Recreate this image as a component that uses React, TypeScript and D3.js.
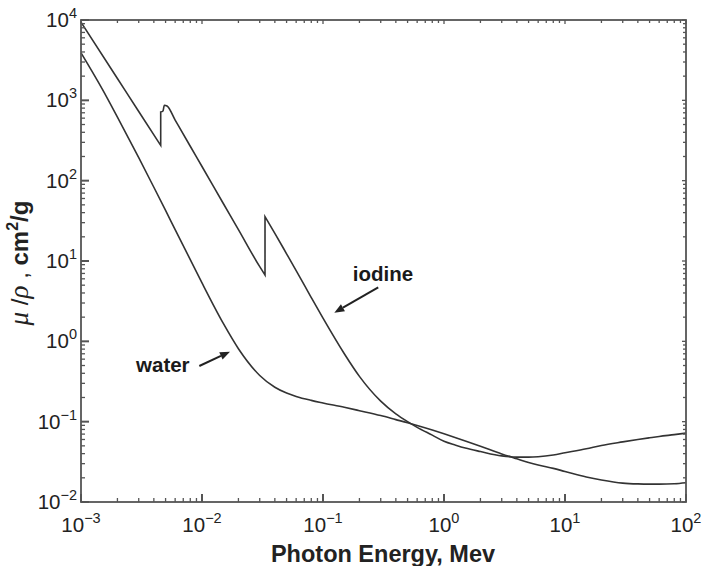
import React from "react";
import * as d3 from "d3";

// Photon energy (MeV) and mass attenuation coefficient (cm^2/g)
const iodineEnergy = [
  0.001, 0.002, 0.003, 0.004557,
  0.004557, 0.00476, 0.00488, 0.00514,
  0.006, 0.008, 0.01, 0.015, 0.02, 0.03, 0.03317,
  0.03317, 0.04, 0.05, 0.06, 0.08, 0.1, 0.15, 0.2, 0.3, 0.4, 0.5, 0.6, 0.8,
  1, 1.25, 1.5, 2, 3, 4, 5, 6, 8, 10, 15, 20, 30, 40, 50, 60, 80, 100,
];
const iodineMu = [
  9400, 1871, 727, 275,
  716, 737, 870, 851,
  568, 268, 150, 52, 24.6, 8.5, 6.7,
  35.6, 22.1, 12.3, 7.6, 3.5, 1.94, 0.7, 0.366, 0.18, 0.125, 0.1, 0.085, 0.068,
  0.057, 0.051, 0.047, 0.0425, 0.0375, 0.0362, 0.0362, 0.0366, 0.0385, 0.041, 0.046, 0.0505, 0.056, 0.06, 0.063, 0.0655, 0.069, 0.072,
];
const waterEnergy = [
  0.001, 0.0015, 0.002, 0.003, 0.004, 0.005, 0.006, 0.008, 0.01, 0.015, 0.02,
  0.03, 0.04, 0.05, 0.06, 0.08, 0.1, 0.15, 0.2, 0.3, 0.4, 0.5, 0.6, 0.8, 1,
  1.25, 1.5, 2, 3, 4, 5, 6, 8, 10, 15, 20, 30, 40, 50, 60, 80, 100,
];
const waterMu = [
  3900, 1376, 617, 193, 82.8, 42.6, 24.6, 10.4, 5.33, 1.67, 0.81,
  0.376, 0.268, 0.227, 0.206, 0.184, 0.171, 0.151, 0.137, 0.119, 0.106, 0.0969, 0.0896, 0.0787, 0.0707,
  0.0632, 0.0575, 0.0494, 0.0397, 0.0345, 0.031, 0.0288, 0.0262, 0.0240, 0.0205, 0.0188, 0.0172, 0.0168, 0.0167, 0.0167, 0.0169, 0.0174,
];

const xTickExponents = [-3, -2, -1, 0, 1, 2];
const yTickExponents = [-2, -1, 0, 1, 2, 3, 4];

// annotations (energy, mu) for label start, arrow tail, arrow tip
const annotationLabels = ["iodine", "water"];
const annotationText = [[0.176, 5.68], [0.00285, 0.419]];
const annotationTail = [[0.286, 4.7], [0.0095, 0.493]];
const annotationTip = [[0.124, 2.27], [0.01703, 0.743]];

const W = 702;
const H = 566;
const L = 81, R = 686, T = 20, B = 502;
const SANS = "'Liberation Sans', Arial, Helvetica, sans-serif";
const SERIF = "'Liberation Serif', 'DejaVu Serif', serif";

const x = d3.scaleLog().domain([1e-3, 1e2]).range([L, R]);
const y = d3.scaleLog().domain([1e-2, 1e4]).range([B, T]);

function curvePath(es: number[], vs: number[]) {
  // split at absorption edges (repeated energy), smooth each piece, join vertically
  const pts = es.map((e, i) => [x(e), y(vs[i])] as [number, number]);
  const segs: [number, number][][] = [];
  let cur: [number, number][] = [];
  pts.forEach((p, i) => {
    if (i > 0 && es[i] === es[i - 1]) {
      segs.push(cur);
      cur = [];
    }
    cur.push(p);
  });
  segs.push(cur);
  const gen = d3.line().curve(d3.curveMonotoneX);
  return segs
    .map((s, i) => {
      const d = gen(s) || "";
      return i === 0 ? d : "L" + d.slice(1);
    })
    .join("");
}

function allTicks() {
  const out: { v: number; major: boolean }[] = [];
  for (let d = -3; d <= 4; d++) {
    for (let m = 1; m <= 9; m++) out.push({ v: m * Math.pow(10, d), major: m === 1 });
  }
  return out;
}

const sup = (n: number) => (n < 0 ? "\u2212" + Math.abs(n) : String(n));

export default function App() {
  const ticks = allTicks();
  const xt = ticks.filter((t) => t.v >= 1e-3 * 0.999 && t.v <= 1e2 * 1.001);
  const yt = ticks.filter((t) => t.v >= 1e-2 * 0.999 && t.v <= 1e4 * 1.001);
  const maj = 8, mnr = 4;
  const lineColor = "#333";
  const axisColor = "#555";

  return (
    <svg width={W} height={H} style={{ position: "absolute", left: 0, top: 0, background: "#fff" }}>
      <rect x={0} y={0} width={W} height={H} fill="#fff" />
      {/* curves */}
      <path d={curvePath(waterEnergy, waterMu)} fill="none" stroke={lineColor} strokeWidth={1.6} />
      <path d={curvePath(iodineEnergy, iodineMu)} fill="none" stroke={lineColor} strokeWidth={1.6} />

      {/* ticks */}
      <g stroke={axisColor} strokeWidth={1.3}>
        {xt.map((t, i) => {
          const px = x(t.v);
          const len = t.major ? maj : mnr;
          return (
            <g key={"xt" + i}>
              <line x1={px} x2={px} y1={B} y2={B - len} strokeWidth={t.major ? 2 : 1.3} />
              <line x1={px} x2={px} y1={T} y2={T + (t.major ? 4 : 3)} />
            </g>
          );
        })}
        {yt.map((t, i) => {
          const py = y(t.v);
          const len = t.major ? maj : mnr;
          return (
            <g key={"yt" + i}>
              <line x1={L} x2={L + len} y1={py} y2={py} strokeWidth={t.major ? 2 : 1.3} />
              <line x1={R} x2={R - (t.major ? 4 : 3)} y1={py} y2={py} />
            </g>
          );
        })}
      </g>
      <rect x={L} y={T} width={R - L} height={B - T} fill="none" stroke={axisColor} strokeWidth={1.8} />

      {/* x tick labels */}
      {xTickExponents.map((e) => (
        <text key={"xl" + e} x={x(Math.pow(10, e))} y={532} textAnchor="middle" fontFamily={SANS} fontSize={20.5} fill="#222">
          <tspan>10</tspan>
          <tspan fontSize={14.5} dy={-9}>{sup(e)}</tspan>
        </text>
      ))}
      {/* y tick labels */}
      {yTickExponents.map((e) => (
        <text key={"yl" + e} x={77} y={y(Math.pow(10, e)) + 7} textAnchor="end" fontFamily={SANS} fontSize={20.5} fill="#222">
          <tspan>10</tspan>
          <tspan fontSize={14.5} dy={-9}>{sup(e)}</tspan>
        </text>
      ))}

      {/* axis titles */}
      <text x={383} y={562} textAnchor="middle" fontFamily={SANS} fontSize={23.5} fontWeight="bold" fill="#222">
        Photon Energy, Mev
      </text>
      <text transform="translate(28,263) rotate(-90)" textAnchor="middle" fontFamily={SANS} fontSize={24} fill="#222">
        <tspan fontFamily={SERIF} fontStyle="italic" fontSize={27}>μ</tspan>
        <tspan> /</tspan>
        <tspan fontFamily={SERIF} fontStyle="italic" fontSize={27}>ρ</tspan>
        <tspan> , </tspan>
        <tspan fontWeight="bold">cm</tspan>
        <tspan fontWeight="bold" fontSize={16} dy={-10}>2</tspan>
        <tspan fontWeight="bold" dy={10}>/g</tspan>
      </text>

      {/* annotations */}
      {annotationLabels.map((lab, i) => {
        const tx = x(annotationText[i][0]);
        const ty = y(annotationText[i][1]);
        const x0 = x(annotationTail[i][0]);
        const y0 = y(annotationTail[i][1]);
        const x1 = x(annotationTip[i][0]);
        const y1 = y(annotationTip[i][1]);
        const ang = Math.atan2(y1 - y0, x1 - x0);
        const hl = 10, hw = 4;
        const bx = x1 - hl * Math.cos(ang);
        const by = y1 - hl * Math.sin(ang);
        const p1 = [bx + hw * Math.sin(ang), by - hw * Math.cos(ang)];
        const p2 = [bx - hw * Math.sin(ang), by + hw * Math.cos(ang)];
        return (
          <g key={lab}>
            <text x={tx} y={ty} fontFamily={SANS} fontSize={20.5} fontWeight="bold" fill="#1a1a1a">
              {lab}
            </text>
            <line x1={x0} y1={y0} x2={bx} y2={by} stroke="#222" strokeWidth={2} />
            <polygon points={`${x1},${y1} ${p1[0]},${p1[1]} ${p2[0]},${p2[1]}`} fill="#222" />
          </g>
        );
      })}
    </svg>
  );
}
